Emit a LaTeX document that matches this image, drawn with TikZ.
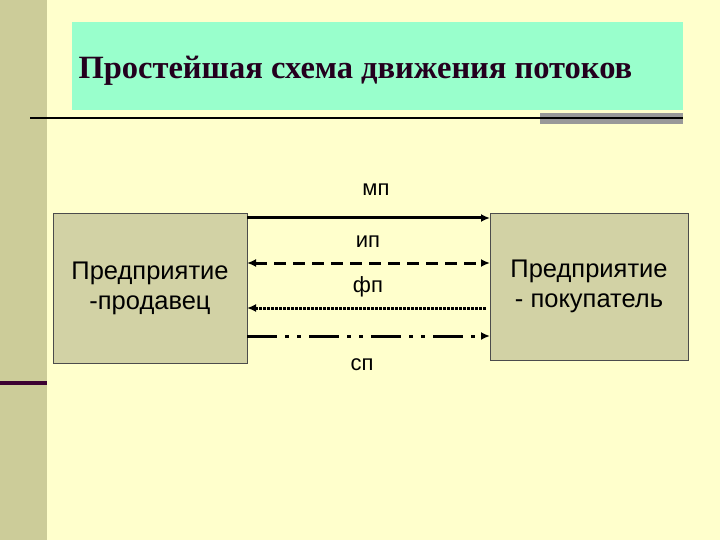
\documentclass[tikz,border=0pt]{standalone}
\usepackage{fontspec}
\setmainfont{Liberation Serif}
\newfontfamily\sans{Liberation Sans}
\usetikzlibrary{arrows.meta}
\definecolor{bg}{RGB}{255,255,204}
\definecolor{strip}{RGB}{204,204,153}
\definecolor{mint}{RGB}{153,255,204}
\definecolor{boxc}{RGB}{210,210,165}
\definecolor{plum}{RGB}{60,0,50}
\tikzset{ent/.style={draw=black!70,fill=boxc,minimum width=194pt,minimum height=150pt,align=center,font=\sans\fontsize{25.5}{30}\selectfont},
flow/.style={line width=3pt,-{Latex[length=9pt,width=8pt]}},
lab/.style={font=\sans\fontsize{22}{26}\selectfont}}
\begin{document}
\begin{tikzpicture}[x=1pt,y=-1pt]
\useasboundingbox (0,0) rectangle (720,540);
\fill[bg] (0,0) rectangle (720,540);
\fill[strip] (0,0) rectangle (47,540);
\fill[plum] (0,381) rectangle (47,385);
\fill[mint] (72,22) rectangle (683,110);
\fill[black!40] (540,113) rectangle (683,124);
\draw[line width=2pt] (30,118) -- (683,118);
\node[font=\bfseries\fontsize{32.5}{36}\selectfont,anchor=west,text=plum!60!black] (t) at (75,71) {Простейшая схема движения потоков};
\node[ent] (l) at (150,288) {Предприятие\\-продавец};
\node[ent,minimum width=198pt,minimum height=147pt] (r) at (589,286.5) {Предприятие\\- покупатель};
\coordinate (a1) at (247,218); \coordinate (b1) at (490,218);
\coordinate (a2) at (247,263); \coordinate (b2) at (490,263);
\coordinate (a3) at (247,308); \coordinate (b3) at (487,308);
\coordinate (a4) at (247,336); \coordinate (b4) at (490,336);
\draw[flow] (a1) -- (b1);
\draw[flow,{Latex[length=9pt,width=8pt]}-{Latex[length=9pt,width=8pt]},dash pattern=on 12pt off 7pt] (a2) -- (b2);
\draw[flow,{Latex[length=9pt,width=8pt]}-,dash pattern=on 2.5pt off 1.5pt] (a3) -- (b3);
\draw[flow,dash pattern=on 30pt off 8pt on 4pt off 8pt on 4pt off 8pt] (a4) -- (b4);
\node[lab] (mp) at (376,190) {мп};
\node[lab] (ip) at (368,242) {ип};
\node[lab] (fp) at (368,287) {фп};
\node[lab] (sp) at (362,365) {сп};
\end{tikzpicture}
\end{document}
